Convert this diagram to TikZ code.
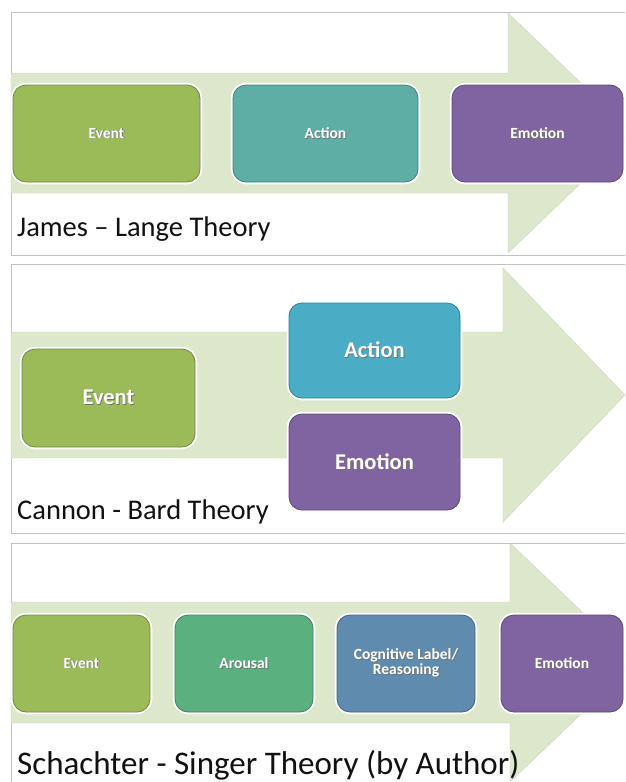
\documentclass[tikz,border=0pt]{standalone}
\usepackage{fontspec}
\setmainfont{Carlito}
\definecolor{arrowfill}{RGB}{221,231,203}
\definecolor{panelline}{RGB}{192,192,192}
\definecolor{evgreen}{RGB}{155,187,89}
\definecolor{acteal}{RGB}{94,174,166}
\definecolor{emopurple}{RGB}{128,100,162}
\definecolor{acblue}{RGB}{75,172,198}
\definecolor{arogreen}{RGB}{90,176,126}
\definecolor{cogblue}{RGB}{94,139,174}
\definecolor{labeltext}{RGB}{17,17,17}
\newcommand\shadowtxt[1]{\rlap{\raisebox{-0.9pt}{\hspace{0.9pt}\textcolor{black!55}{#1}}}#1}
\tikzset{
  stage/.style={rectangle, rounded corners=13pt, fill=#1, draw=#1!72!black,
    line width=0.8pt, preaction={draw=white, line width=4.5pt},
    text=white, font=\bfseries, align=center, inner sep=0pt},
  smalltext/.style={font=\bfseries\fontsize{15.5}{12}\selectfont},
  bigtext/.style={font=\bfseries\fontsize{22.5}{26}\selectfont},
  flowarrow/.style={fill=arrowfill, draw=arrowfill!92!black, line width=0.4pt},
  panelbox/.style={draw=panelline, line width=1pt},
  theorylabel/.style={anchor=base west, inner sep=0pt, text=labeltext,
    font=\fontsize{28.5}{32}\selectfont}
}
\begin{document}
\begin{tikzpicture}[x=1pt,y=-1pt]
\useasboundingbox (0,0) rectangle (625,782);
\clip (0,0) rectangle (625,782);
\fill[white] (0,0) rectangle (625,782);
% ---------- panel 1 ----------
\draw[panelbox] (11,12) rectangle (640,255);
\filldraw[flowarrow] (11,73) -- (508,73) -- (508,13) -- (633,133) -- (508,253) -- (508,193) -- (11,193) -- cycle;
\node[stage=evgreen, smalltext, minimum width=187pt, minimum height=97pt] (ev1) at (106.5,133.5) {\shadowtxt{Event}};
\node[stage=acteal, smalltext, minimum width=185pt, minimum height=97pt] (ac1) at (325.5,133.5) {\shadowtxt{Action}};
\node[stage=emopurple, smalltext, minimum width=171pt, minimum height=97pt] (em1) at (537.5,133.5) {\shadowtxt{Emotion}};
\node[theorylabel] (t1) at (17,236) {James – Lange Theory};
% ---------- panel 2 ----------
\draw[panelbox] (11,264) rectangle (640,533);
\filldraw[flowarrow] (11,332) -- (503,332) -- (503,268) -- (625,395) -- (503,522) -- (503,458) -- (11,458) -- cycle;
\node[stage=evgreen, bigtext, minimum width=173pt, minimum height=98pt] (ev2) at (108.5,398) {\shadowtxt{Event}};
\node[stage=acblue, bigtext, minimum width=171pt, minimum height=95pt] (ac2) at (374.5,350.5) {\shadowtxt{Action}};
\node[stage=emopurple, bigtext, minimum width=171pt, minimum height=96pt] (em2) at (374.5,462) {\shadowtxt{Emotion}};
\node[theorylabel] (t2) at (17,519) {Cannon - Bard Theory};
% ---------- panel 3 ----------
\draw[panelbox] (11,543) rectangle (640,800);
\filldraw[flowarrow] (11,602) -- (510,602) -- (510,543) -- (635,662.5) -- (510,782) -- (510,723) -- (11,723) -- cycle;
\node[stage=evgreen, smalltext, minimum width=137pt, minimum height=97pt] (ev3) at (81.5,663.5) {\shadowtxt{Event}};
\node[stage=arogreen, smalltext, minimum width=138pt, minimum height=97pt] (ar3) at (244,663.5) {\shadowtxt{Arousal}};
\node[stage=cogblue, smalltext, minimum width=138pt, minimum height=97pt] (co3) at (406,663.5) {\shadowtxt{Cognitive Label/}\\\shadowtxt{Reasoning}};
\node[stage=emopurple, smalltext, minimum width=122pt, minimum height=97pt] (em3) at (562,663.5) {\shadowtxt{Emotion}};
\node[theorylabel, font=\fontsize{33}{36}\selectfont] (t3) at (17,774) {Schachter - Singer Theory (by Author)};
\end{tikzpicture}
\end{document}
